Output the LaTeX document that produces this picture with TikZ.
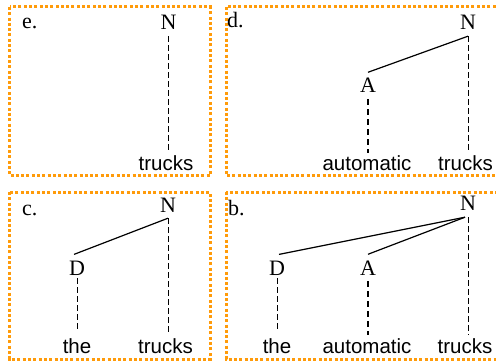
\documentclass[tikz,border=0pt]{standalone}
\usepackage{fontspec}
\setmainfont{Liberation Serif}
\newfontfamily\wordfont{Liberation Sans}
\definecolor{frameorange}{RGB}{255,155,10}
\begin{document}
\begin{tikzpicture}[x=1pt,y=-1pt,
  panel/.style={draw=frameorange, line width=3pt, dash pattern=on 3pt off 2.3pt},
  tag/.style={anchor=base west, inner sep=0pt, font=\fontsize{22}{22}\selectfont},
  cat/.style={anchor=base, inner sep=6pt, font=\fontsize{22}{22}\selectfont},
  word/.style={anchor=base, inner sep=3pt, font=\wordfont\fontsize{20.5}{20.5}\selectfont},
  branch/.style={line width=1.2pt},
  link/.style={line width=0.8pt, dash pattern=on 6pt off 3pt},
  boldlink/.style={line width=1.8pt, dash pattern=on 6pt off 4pt}]
\useasboundingbox (0,0) rectangle (496,361);
\clip (0,0) rectangle (496,361);

% panel frames
\draw[panel] (9.5,7) rectangle (210,175.5);
\draw[panel] (226,7) rectangle (505,175.5);
\draw[panel] (9.5,192) rectangle (210,359);
\draw[panel] (226,192) rectangle (505,359);

% e.
\node[tag] (eT) at (22,29) {e.};
\node[cat] (eN) at (168.5,30) {N};
\node[word] (eW) at (166,171) {trucks};
\draw[link] (eN.south) -- (eN.south |- eW.north);

% d.
\node[tag] (dT) at (227,28) {d.};
\node[cat] (dN) at (468,30) {N};
\node[cat] (dA) at (368,93) {A};
\node[word] (dW1) at (367,171) {automatic};
\node[word] (dW2) at (465.5,171) {trucks};
\draw[branch] (dN.south) -- (dA.north);
\draw[boldlink] (dA.south) -- (dA.south |- dW1.north);
\draw[link] (dN.south) -- (dN.south |- dW2.north);

% c.
\node[tag] (cT) at (22,215) {c.};
\node[cat] (cN) at (168,212) {N};
\node[cat] (cD) at (77,275) {D};
\node[word] (cW1) at (77,353) {the};
\node[word] (cW2) at (165.5,353) {trucks};
\draw[branch] (cN.south) -- ([xshift=-3pt]cD.north);
\draw[link, shorten <=-3pt, shorten >=4pt] (cD.south) -- (cD.south |- cW1.north);
\draw[link] (cN.south) -- (cN.south |- cW2.north);

% b.
\node[tag] (bT) at (228,215) {b.};
\node[cat] (bN) at (468,211) {N};
\node[cat] (bD) at (277,275) {D};
\node[cat] (bA) at (368,275) {A};
\node[word] (bW1) at (277,353) {the};
\node[word] (bW2) at (367,353) {automatic};
\node[word] (bW3) at (465,353) {trucks};
\draw[branch] ([xshift=-3pt]bN.south) -- ([xshift=2pt]bD.north);
\draw[branch] ([xshift=-3pt]bN.south) -- (bA.north);
\draw[link, shorten <=-3pt, shorten >=4pt] (bD.south) -- (bD.south |- bW1.north);
\draw[boldlink] (bA.south) -- (bA.south |- bW2.north);
\draw[link] (bN.south) -- (bN.south |- bW3.north);
\end{tikzpicture}
\end{document}
